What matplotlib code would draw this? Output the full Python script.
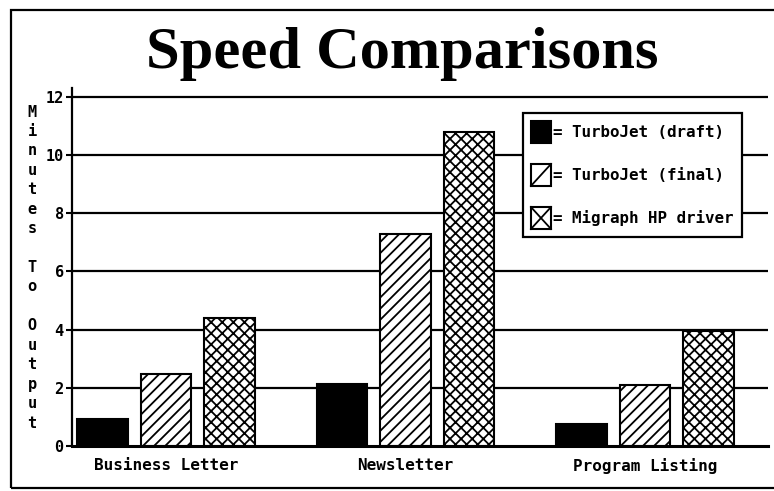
import matplotlib
matplotlib.use("Agg")
import matplotlib.pyplot as plt
import numpy as np
from matplotlib.legend_handler import HandlerBase
from matplotlib.patches import Rectangle
from matplotlib.lines import Line2D

# ---- data ----
categories = ["Business Letter", "Newsletter", "Program Listing"]
series_names = ["= TurboJet (draft)", "= TurboJet (final)", "= Migraph HP driver"]
draft = [0.94, 2.12, 0.74]
final = [2.48, 7.28, 2.08]
migraph = [4.4, 10.8, 3.95]
yticks = [0, 2, 4, 6, 8, 10, 12]
title = "Speed Comparisons"
ylabel = "Minutes To Output"

mono = "DejaVu Sans Mono"
plt.rcParams["hatch.linewidth"] = 1.3
plt.rcParams["hatch.color"] = "black"

W, H = 774, 491
fig = plt.figure(figsize=(W / 100, H / 100), dpi=100)
fig.patch.set_facecolor("white")

ax_left, ax_right, ax_bottom, ax_top = 72, 768, 446, 88
ax = fig.add_axes([ax_left / W, 1 - ax_bottom / H,
                   (ax_right - ax_left) / W, (ax_bottom - ax_top) / H])

x = np.arange(len(categories))
off = 0.265
bw = 0.21
edge_lw = 1.5
b1 = ax.bar(x - off, draft, bw, color="black", edgecolor="black", lw=edge_lw, zorder=3)
b2 = ax.bar(x, final, bw, color="white", edgecolor="black", hatch="///", lw=edge_lw, zorder=3)
b3 = ax.bar(x + off, migraph, bw, color="white", edgecolor="black", hatch="xxx", lw=edge_lw, zorder=3)

ax.set_xlim(-0.392, 2.513)
ax.set_ylim(0, 12.3)
ax.set_yticks(yticks)
ax.set_yticklabels([str(v) for v in yticks], fontfamily=mono, fontweight="bold", fontsize=11)
ax.set_xticks(x)
ax.set_xticklabels(categories, fontfamily=mono, fontweight="bold", fontsize=11.5)
ax.tick_params(axis="x", length=0, pad=9)
ax.tick_params(axis="y", length=4, width=1.5, pad=2, direction="out")

for v in yticks[1:]:
    ax.axhline(v, color="black", lw=1.6, zorder=1)

for s in ["top", "right"]:
    ax.spines[s].set_visible(False)
ax.spines["left"].set_linewidth(1.6)
ax.spines["bottom"].set_linewidth(2.2)
ax.spines["bottom"].set_zorder(4)


class SquareHandler(HandlerBase):
    def __init__(self, kind):
        super().__init__()
        self.kind = kind

    def create_artists(self, legend, orig_handle, xdescent, ydescent,
                       width, height, fontsize, trans):
        x0, y0 = -xdescent, -ydescent
        fc = "black" if self.kind == "solid" else "white"
        r = Rectangle((x0, y0), width, height, facecolor=fc, edgecolor="black",
                      lw=1.5, transform=trans)
        arts = [r]
        if self.kind in ("slash", "x"):
            arts.append(Line2D([x0, x0 + width], [y0, y0 + height], color="black",
                               lw=1.3, transform=trans))
        if self.kind == "x":
            arts.append(Line2D([x0, x0 + width], [y0 + height, y0], color="black",
                               lw=1.3, transform=trans))
        return arts


leg = ax.legend([b1, b2, b3], series_names,
                handler_map={b1: SquareHandler("solid"), b2: SquareHandler("slash"),
                             b3: SquareHandler("x")},
                loc="upper left", bbox_to_anchor=((523 - ax_left) / (ax_right - ax_left),
                                                  (ax_bottom - 113) / (ax_bottom - ax_top)),
                prop={"family": mono, "weight": "bold", "size": 11.4},
                handlelength=1.27, handleheight=1.76, handletextpad=0.15,
                labelspacing=1.33, borderpad=0.5, borderaxespad=0,
                frameon=True, fancybox=False, shadow=False, framealpha=1)
leg.get_frame().set_edgecolor("black")
leg.get_frame().set_linewidth(1.6)
leg.set_zorder(5)

# title
fig.text(402 / W, 1 - 68 / H, title, ha="center", va="baseline",
         fontsize=43.5, fontfamily="Liberation Serif", fontweight="bold")

# vertical stacked y label
for i, ch in enumerate(ylabel):
    if ch != " ":
        fig.text(32 / W, 1 - (112 + i * 19.44) / H, ch, ha="center", va="center",
                 fontsize=11, fontfamily=mono, fontweight="bold")

# outer frame
fig.patches.append(Rectangle((11 / W, 1 - 488 / H), 1.2, (488 - 10) / H,
                             transform=fig.transFigure, fill=False,
                             edgecolor="black", lw=1.6, clip_on=False))

fig.savefig("out.png", dpi=100)
